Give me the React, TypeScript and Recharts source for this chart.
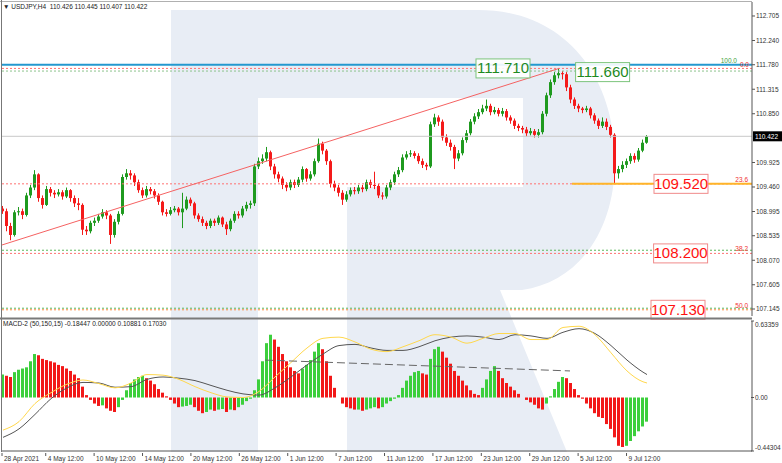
import React from 'react';
import {
  ComposedChart,
  Bar,
  Line,
  XAxis,
  YAxis,
  ReferenceLine,
  ReferenceDot,
  Cell,
} from 'recharts';

// USDJPY H4 closes, one per candle (left to right)
const closes = [
  109.0, 108.72, 108.55, 108.98, 109.0, 108.93, 109.3, 109.45, 109.7, 109.25,
  109.12, 109.42, 109.35, 109.32, 109.36, 109.28, 109.4, 109.25, 109.15, 109.12,
  108.65, 108.62, 108.78, 108.82, 108.9, 108.98, 108.92, 108.55, 108.8, 108.95,
  109.65, 109.72, 109.68, 109.55, 109.4, 109.3, 109.42, 109.38, 109.3, 109.18,
  108.98, 108.95, 109.02, 109.05, 108.98, 109.05, 109.22, 109.15, 108.92, 108.85,
  108.78, 108.72, 108.82, 108.78, 108.88, 108.75, 108.66, 108.82, 108.95, 108.92,
  109.05, 109.12, 109.15, 109.85, 109.95, 110.0, 110.12, 109.85, 109.7, 109.62,
  109.5, 109.45, 109.55, 109.5, 109.6, 109.8, 109.62, 109.7, 109.95, 110.28,
  110.15, 109.95, 109.52, 109.45, 109.35, 109.22, 109.32, 109.4, 109.38, 109.45,
  109.42, 109.55, 109.5, 109.48, 109.3, 109.28, 109.45, 109.55, 109.7, 109.78,
  110.02, 110.08, 110.1, 110.05, 109.95, 109.88, 109.85, 110.65, 110.78, 110.7,
  110.4, 110.3, 110.22, 110.0, 110.1, 110.35, 110.48, 110.7, 110.8, 110.88,
  110.95, 111.0, 110.88, 110.92, 110.85, 110.9, 110.78, 110.72, 110.62, 110.58,
  110.55, 110.48, 110.52, 110.45, 110.5, 110.85, 111.2, 111.45, 111.58, 111.62,
  111.6, 111.35, 111.12, 111.0, 110.95, 110.92, 110.95, 110.82, 110.72, 110.62,
  110.7, 110.6, 110.45, 109.72, 109.8, 109.88, 109.95, 110.05, 109.98, 110.15,
  110.3, 110.422,
];

const highs = [
  109.1, 109.05, 108.78, 109.02, 109.08, 109.05, 109.35, 109.5, 109.78, 109.72,
  109.3, 109.48, 109.46, 109.4, 109.42, 109.4, 109.45, 109.42, 109.3, 109.25,
  109.15, 108.72, 108.82, 108.88, 108.95, 109.04, 109.02, 108.95, 108.85, 109.0,
  109.7, 109.8, 109.78, 109.72, 109.6, 109.45, 109.48, 109.46, 109.42, 109.34,
  109.2, 109.04, 109.08, 109.1, 109.08, 109.35, 109.28, 109.26, 109.18, 108.96,
  108.9, 108.82, 108.86, 108.86, 108.92, 108.9, 108.8, 108.86, 109.0, 109.0,
  109.1, 109.18, 109.2, 109.9, 110.02, 110.08, 110.22, 110.15, 109.9, 109.75,
  109.66, 109.55, 109.6, 109.6, 109.65, 109.85, 109.82, 109.76, 110.0, 110.38,
  110.32, 110.18, 109.98, 109.58, 109.5, 109.4, 109.38, 109.45, 109.46, 109.5,
  109.5, 109.6, 109.6, 109.75, 109.52, 109.36, 109.5, 109.6, 109.75, 109.84,
  110.08, 110.14, 110.16, 110.14, 110.1, 110.0, 109.92, 110.7, 110.85, 110.82,
  110.74, 110.46, 110.36, 110.26, 110.16, 110.4, 110.54, 110.75, 110.86, 110.94,
  111.02, 111.12, 111.04, 110.98, 110.96, 110.96, 110.94, 110.82, 110.76, 110.66,
  110.62, 110.6, 110.58, 110.56, 110.56, 110.9, 111.25, 111.5, 111.64, 111.71,
  111.66, 111.64, 111.4, 111.16, 111.04, 110.98, 111.0, 110.98, 110.86, 110.76,
  110.78, 110.76, 110.64, 110.48, 109.86, 109.95, 110.0, 110.1, 110.1, 110.2,
  110.36, 110.445,
];

const lows = [
  108.95, 108.62, 108.45, 108.52, 108.92, 108.85, 108.9, 109.25, 109.4, 109.18,
  109.05, 109.1, 109.28, 109.25, 109.28, 109.22, 109.25, 109.18, 109.08, 109.02,
  108.55, 108.55, 108.58, 108.72, 108.78, 108.86, 108.85, 108.38, 108.5, 108.75,
  108.92, 109.6, 109.6, 109.48, 109.35, 109.25, 109.26, 109.32, 109.24, 109.12,
  108.92, 108.9, 108.92, 108.98, 108.92, 108.68, 109.02, 109.1, 108.86, 108.8,
  108.72, 108.66, 108.68, 108.72, 108.74, 108.7, 108.55, 108.62, 108.78, 108.86,
  108.88, 109.0, 109.05, 109.1, 109.8, 109.9, 109.95, 109.78, 109.62, 109.55,
  109.42, 109.38, 109.4, 109.44, 109.46, 109.55, 109.56, 109.58, 109.66, 109.92,
  110.08, 109.88, 109.45, 109.38, 109.28, 109.12, 109.18, 109.28, 109.32, 109.33,
  109.36, 109.38, 109.44, 109.42, 109.25, 109.22, 109.24, 109.4, 109.5, 109.65,
  109.74, 109.98, 110.03, 110.0, 109.9, 109.82, 109.78, 109.82, 110.6, 110.62,
  110.34, 110.24, 110.15, 109.8, 109.95, 110.06, 110.3, 110.44, 110.65, 110.75,
  110.84, 110.9, 110.82, 110.84, 110.8, 110.8, 110.72, 110.66, 110.56, 110.52,
  110.48, 110.42, 110.44, 110.4, 110.4, 110.46, 110.8, 111.15, 111.4, 111.52,
  111.5, 111.28, 111.05, 110.94, 110.88, 110.86, 110.88, 110.76, 110.66, 110.56,
  110.58, 110.54, 110.4, 109.52, 109.62, 109.74, 109.82, 109.9, 109.92, 109.94,
  110.12, 110.28,
];

const firstOpen = 109.05;

// MACD-2 histogram, one value per candle
const histogram = [
  0.19, 0.18, 0.17, 0.21, 0.23, 0.24, 0.25, 0.3, 0.36, 0.35,
  0.32, 0.31, 0.3, 0.29, 0.27, 0.26, 0.24, 0.22, 0.19, 0.16,
  0.09, 0.02, -0.02, -0.05, -0.07, -0.065, -0.09, -0.11, -0.12, -0.08,
  -0.02, 0.06, 0.12, 0.15, 0.17, 0.18, 0.16, 0.14, 0.11, 0.07,
  0.04, 0.01, -0.02, -0.05, -0.08, -0.075, -0.07, -0.06, -0.08, -0.11,
  -0.13, -0.12, -0.1, -0.11, -0.1, -0.095, -0.12, -0.1, -0.105, -0.08,
  -0.06, -0.03, -0.01, 0.06, 0.15, 0.3, 0.45, 0.52, 0.48, 0.42,
  0.36, 0.3, 0.25, 0.22, 0.2, 0.24, 0.27, 0.31, 0.38, 0.45,
  0.4, 0.3, 0.18, 0.08, 0.0, -0.05, -0.08, -0.09, -0.1, -0.1,
  -0.11, -0.1, -0.09, -0.08, -0.09, -0.08, -0.05, -0.03, -0.01, 0.02,
  0.08, 0.14, 0.18, 0.21, 0.22, 0.2, 0.19, 0.32, 0.4, 0.42,
  0.38, 0.33, 0.28, 0.22, 0.18, 0.14, 0.1, 0.06, 0.03, 0.02,
  0.08, 0.15, 0.22, 0.26, 0.22, 0.16, 0.12, 0.09, 0.06, 0.03,
  0.0, -0.02, -0.04, -0.06, -0.09, -0.1, -0.05, 0.01, 0.07, 0.13,
  0.17, 0.16, 0.12, 0.07, 0.02, -0.01, -0.05, -0.09, -0.13, -0.16,
  -0.17, -0.22, -0.26, -0.33, -0.4, -0.41, -0.4, -0.36, -0.32, -0.28,
  -0.24, -0.2,
];

// MACD lines, read at every 4th candle plus the last one
const macdMain = [
  -0.33, -0.26, -0.14, -0.01, 0.08, 0.125, 0.12, 0.085, 0.09, 0.15,
  0.17, 0.16, 0.14, 0.1, 0.06, 0.03, 0.02, 0.08, 0.17, 0.27,
  0.36, 0.43, 0.44, 0.41, 0.39, 0.39, 0.42, 0.47, 0.5, 0.51,
  0.5, 0.48, 0.52, 0.51, 0.49, 0.54, 0.57, 0.53, 0.43, 0.31,
  0.21, 0.19,
];
const macdSignal = [
  -0.27, -0.2, -0.05, 0.04, 0.11, 0.145, 0.115, 0.08, 0.12, 0.19,
  0.185, 0.15, 0.09, 0.04, 0.005, 0.0, 0.05, 0.17, 0.29, 0.41,
  0.49, 0.5, 0.46, 0.4, 0.38, 0.42, 0.47, 0.52, 0.5, 0.45,
  0.49, 0.53, 0.53, 0.48, 0.48, 0.58, 0.59, 0.52, 0.37, 0.22,
  0.13, 0.12,
];

const priceTicks = [
  112.705, 112.24, 111.78, 111.315, 110.85, 109.925, 109.46, 108.995, 108.535,
  108.07, 107.605, 107.145,
];
const macdTicks = [0.63359, 0, -0.44304];

const timeLabels = [
  '28 Apr 2021', '4 May 12:00', '10 May 12:00', '14 May 12:00', '20 May 12:00',
  '26 May 12:00', '1 Jun 12:00', '7 Jun 12:00', '11 Jun 12:00', '17 Jun 12:00',
  '23 Jun 12:00', '29 Jun 12:00', '5 Jul 12:00', '9 Jul 12:00',
];
const timeTickBars = [
  -0.25, 10.68, 22.78, 34.88, 46.98, 59.08, 71.18, 83.28, 95.38, 107.48,
  119.58, 131.68, 143.78, 155.88,
];

const FONT = '"Liberation Sans", Arial, sans-serif';
const GREEN = '#1f9a1f';
const RED = '#f41a1a';
const HIST_GREEN = '#3ccf3c';
const HIST_RED = '#f21818';
const X_DOMAIN: [number, number] = [-0.25, 187.25];
const PRICE_DOMAIN: [number, number] = [107.0122, 112.9704];
const MACD_DOMAIN: [number, number] = [-0.44304, 0.63359];

const rows: any[] = closes.map((c, i) => ({
  i,
  o: i === 0 ? firstOpen : closes[i - 1],
  c,
  h: highs[i],
  l: lows[i],
  range: [lows[i], highs[i]],
  hist: histogram[i],
  rising: i === 0 || histogram[i] >= histogram[i - 1],
}));
macdMain.forEach((v, k) => {
  const bar = k < 41 ? k * 4 : closes.length - 1;
  rows[bar].main = v;
  rows[bar].sig = macdSignal[k];
});

function Candle(props: any) {
  const { x, y, width, height, payload } = props;
  const { o, c, h, l } = payload;
  const span = h - l || 1;
  const py = (v: number) => y + ((h - v) / span) * height;
  const color = c >= o ? GREEN : RED;
  const top = py(Math.max(o, c));
  const bot = py(Math.min(o, c));
  const cx = Math.floor(x + width / 2) + 0.5;
  return (
    <g>
      <line x1={cx} x2={cx} y1={y} y2={y + height} stroke={color} strokeWidth={1} />
      <rect x={x} y={top} width={width} height={Math.max(1, bot - top)} fill={color} />
    </g>
  );
}

function PriceBox({ cx, cy, text, tone }: any) {
  const green = tone === 'green';
  return (
    <g>
      <rect
        x={cx - 27}
        y={cy - 9.5}
        width={54}
        height={19}
        fill="#ffffff"
        fillOpacity={0.9}
        stroke={green ? '#7cc47c' : '#f08a8a'}
        strokeWidth={1}
      />
      <text
        x={cx}
        y={cy + 5}
        textAnchor="middle"
        fontSize={15}
        fontFamily={FONT}
        fill={green ? '#1e8a1e' : '#ff1010'}
      >
        {text}
      </text>
    </g>
  );
}

function FibTag({ viewBox, text, color, dy = -2, dx = -4 }: any) {
  if (!viewBox) return null;
  return (
    <text
      x={viewBox.x + viewBox.width + dx}
      y={viewBox.y + dy}
      textAnchor="end"
      fontSize={6.5}
      fontFamily={FONT}
      fill={color}
    >
      {text}
    </text>
  );
}

function LastPriceTag({ viewBox }: any) {
  if (!viewBox) return null;
  const x = viewBox.x + viewBox.width;
  return (
    <g>
      <rect x={x + 1} y={viewBox.y - 5} width={30} height={10} fill="#000" />
      <text x={x + 3} y={viewBox.y + 2.5} fontSize={6.5} fontFamily={FONT} fill="#fff">
        110.422
      </text>
    </g>
  );
}

function MacdTick({ x, y, payload }: any) {
  const v = payload.value;
  const dy = v > 0.5 ? 4 : v < -0.3 ? -3 : 0;
  const text = v === 0 ? '0.00' : v.toFixed(5);
  return (
    <g>
      <line x1={x - 3} x2={x} y1={y} y2={y} stroke="#555" />
      <text x={x + 1} y={y + dy + 2.3} fontSize={6.5} fontFamily={FONT} fill="#333">
        {text}
      </text>
    </g>
  );
}

function TimeTick({ x, y, payload }: any) {
  const idx = timeTickBars.indexOf(payload.value);
  return (
    <g>
      <line x1={x} x2={x} y1={y} y2={y + 3} stroke="#555" />
      <text x={x + 2} y={y + 8} fontSize={6.5} fontFamily={FONT} fill="#333">
        {timeLabels[idx]}
      </text>
    </g>
  );
}

function Watermark() {
  const fill = '#e8edf5';
  return (
    <svg width={782} height={463} style={{ position: 'absolute', left: 0, top: 0 }}>
      <rect x={171} y={10} width={87} height={442} fill={fill} />
      <path
        d="M258,10 H478 C566,10 615,78 615,160 C615,232 578,282 522,290 H347 V187 H523 V98 H258 Z"
        fill={fill}
      />
      <path d="M347,290 H500 L567,452 H347 Z" fill={fill} />
    </svg>
  );
}

export default function App() {
  return (
    <div
      style={{
        position: 'relative',
        width: 782,
        height: 463,
        background: '#fff',
        fontFamily: FONT,
        overflow: 'hidden',
      }}
    >
      <style>{'body{margin:0}'}</style>
      <Watermark />

      <div style={{ position: 'absolute', left: 0, top: 0 }}>
        <ComposedChart
          width={782}
          height={320}
          data={rows}
          margin={{ top: 2, right: 0, left: 2, bottom: 4 }}
        >
          <XAxis dataKey="i" type="number" domain={X_DOMAIN} allowDataOverflow hide />
          <YAxis
            orientation="right"
            width={30}
            domain={PRICE_DOMAIN}
            allowDataOverflow
            ticks={priceTicks}
            interval={0}
            tickFormatter={(v: number) => v.toFixed(3)}
            tick={{ fontSize: 6.5, fill: '#333', fontFamily: FONT }}
            tickSize={3}
            tickMargin={1}
            axisLine={{ stroke: '#555' }}
            tickLine={{ stroke: '#555' }}
          />

          <ReferenceLine y={110.422} stroke="#c8c8c8" label={<LastPriceTag />} />
          <ReferenceLine
            y={111.78}
            stroke="#2499cf"
            strokeWidth={2}
            label={<FibTag text="100.0" color="#3ea33e" dy={-2} dx={-15} />}
          />
          <ReferenceLine
            y={111.71}
            stroke="#ff7070"
            strokeDasharray="2 2"
            label={<FibTag text="0.0" color="#f03030" dy={-1} dx={-3} />}
          />
          <ReferenceLine y={111.66} stroke="#8cc48c" strokeDasharray="2 2" />
          <ReferenceLine
            y={109.52}
            stroke="#ff7070"
            strokeDasharray="2 2"
            label={<FibTag text="23.6" color="#f03030" />}
          />
          <ReferenceLine
            segment={[{ x: 142.25, y: 109.52 }, { x: 187.25, y: 109.52 }]}
            stroke="#ffb429"
            strokeWidth={2}
          />
          <ReferenceLine y={108.26} stroke="#5cb85c" strokeDasharray="2 2" />
          <ReferenceLine
            y={108.2}
            stroke="#ff7070"
            strokeDasharray="2 2"
            label={<FibTag text="38.2" color="#f03030" />}
          />
          <ReferenceLine y={107.16} stroke="#5cb85c" strokeDasharray="2 2" />
          <ReferenceLine
            y={107.13}
            stroke="#ff8a40"
            strokeDasharray="2 2"
            label={<FibTag text="50.0" color="#f03030" />}
          />
          <ReferenceLine
            segment={[{ x: -0.25, y: 108.36 }, { x: 139, y: 111.71 }]}
            stroke="#f56262"
            strokeWidth={1}
          />

          <Bar
            dataKey="range"
            barSize={3}
            isAnimationActive={false}
            shape={(p: any) => <Candle {...p} />}
          />

          <ReferenceDot
            x={125}
            y={111.71}
            r={0}
            shape={(p: any) => <PriceBox cx={p.cx} cy={p.cy} text="111.710" tone="green" />}
          />
          <ReferenceDot
            x={149.9}
            y={111.64}
            r={0}
            shape={(p: any) => <PriceBox cx={p.cx} cy={p.cy} text="111.660" tone="green" />}
          />
          <ReferenceDot
            x={169.5}
            y={109.52}
            r={0}
            shape={(p: any) => <PriceBox cx={p.cx} cy={p.cy} text="109.520" tone="red" />}
          />
          <ReferenceDot
            x={169.4}
            y={108.2}
            r={0}
            shape={(p: any) => <PriceBox cx={p.cx} cy={p.cy} text="108.200" tone="red" />}
          />
          <ReferenceDot
            x={168.75}
            y={107.13}
            r={0}
            shape={(p: any) => <PriceBox cx={p.cx} cy={p.cy} text="107.130" tone="red" />}
          />
        </ComposedChart>
      </div>

      <div style={{ position: 'absolute', left: 0, top: 320 }}>
        <ComposedChart
          width={782}
          height={143}
          data={rows}
          margin={{ top: 1, right: 0, left: 2, bottom: 0 }}
        >
          <XAxis
            dataKey="i"
            type="number"
            domain={X_DOMAIN}
            allowDataOverflow
            ticks={timeTickBars}
            interval={0}
            height={12}
            tickSize={0}
            tick={<TimeTick />}
            axisLine={{ stroke: '#555' }}
          />
          <YAxis
            orientation="right"
            width={30}
            domain={MACD_DOMAIN}
            allowDataOverflow
            ticks={macdTicks}
            interval={0}
            tickSize={0}
            tick={<MacdTick />}
            axisLine={{ stroke: '#555' }}
          />
          <Bar dataKey="hist" barSize={3} isAnimationActive={false}>
            {rows.map((r) => (
              <Cell key={r.i} fill={r.rising ? HIST_GREEN : HIST_RED} />
            ))}
          </Bar>
          <Line
            dataKey="main"
            type="monotone"
            stroke="#555"
            strokeWidth={1}
            dot={false}
            connectNulls
            isAnimationActive={false}
          />
          <Line
            dataKey="sig"
            type="monotone"
            stroke="#ffd84d"
            strokeWidth={1}
            dot={false}
            connectNulls
            isAnimationActive={false}
          />
          <ReferenceLine
            segment={[{ x: 65.5, y: 0.31 }, { x: 141.75, y: 0.22 }]}
            stroke="#666"
            strokeDasharray="8 4"
          />
        </ComposedChart>
      </div>

      <svg
        width={782}
        height={463}
        style={{ position: 'absolute', left: 0, top: 0, pointerEvents: 'none' }}
      >
        <line x1={0} x2={752} y1={1.5} y2={1.5} stroke="#b0b0b0" />
        <line x1={1.5} x2={1.5} y1={0} y2={452} stroke="#777" />
        <rect x={0} y={317.5} width={752} height={2} fill="#7a7a7a" />
      </svg>

      <div
        style={{
          position: 'absolute',
          left: 3,
          top: 3,
          fontSize: 6.5,
          lineHeight: '8px',
          color: '#222',
          whiteSpace: 'pre',
        }}
      >
        {'▼ USDJPY,H4  110.426 110.445 110.407 110.422'}
      </div>
      <div
        style={{
          position: 'absolute',
          left: 3,
          top: 320,
          fontSize: 6.5,
          lineHeight: '8px',
          color: '#222',
          whiteSpace: 'pre',
        }}
      >
        {'MACD-2 (50,150,15) -0.18447 0.00000 0.10881 0.17030'}
      </div>
    </div>
  );
}
